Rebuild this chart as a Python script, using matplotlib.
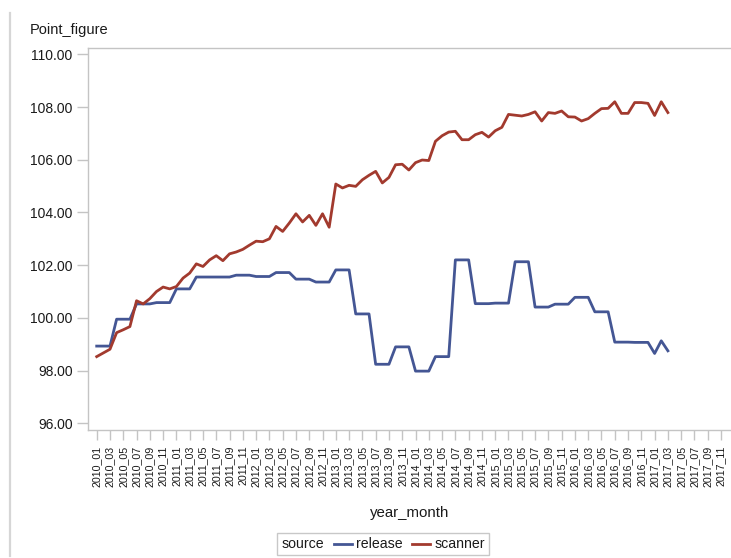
import matplotlib
matplotlib.use("Agg")
import matplotlib.pyplot as plt
from matplotlib.offsetbox import AnchoredOffsetbox, HPacker, TextArea, DrawingArea
from matplotlib.lines import Line2D

plt.rcParams['font.family'] = ['Liberation Sans', 'DejaVu Sans']

years = [2010, 2011, 2012, 2013, 2014, 2015, 2016, 2017]
months = [f"{y}_{m:02d}" for y in years for m in range(1, 13)]
tick_labels = months[::2]

release = [98.93, 98.93, 98.93, 99.95, 99.95, 99.95, 100.53, 100.53, 100.53,
           100.58, 100.58, 100.58, 101.10, 101.10, 101.10,
           101.55, 101.55, 101.55, 101.55, 101.55, 101.55,
           101.62, 101.62, 101.62, 101.57, 101.57, 101.57,
           101.72, 101.72, 101.72, 101.47, 101.47, 101.47,
           101.36, 101.36, 101.36, 101.82, 101.82, 101.82,
           100.15, 100.15, 100.15, 98.24, 98.24, 98.24,
           98.90, 98.90, 98.90, 97.98, 97.98, 97.98,
           98.53, 98.53, 98.53, 102.20, 102.20, 102.20,
           100.54, 100.54, 100.54, 100.56, 100.56, 100.56,
           102.13, 102.13, 102.13, 100.41, 100.41, 100.41,
           100.52, 100.52, 100.52, 100.78, 100.78, 100.78,
           100.23, 100.23, 100.23, 99.08, 99.08, 99.08,
           99.07, 99.07, 99.07, 98.65, 99.13, 98.75]

scanner = [98.53, 98.67, 98.81, 99.44, 99.55, 99.67, 100.65, 100.53, 100.73, 101.00,
           101.17, 101.10, 101.19, 101.51, 101.70, 102.05, 101.95, 102.20, 102.36, 102.17,
           102.43, 102.50, 102.60, 102.76, 102.91, 102.89, 103.00, 103.47, 103.28, 103.60,
           103.95, 103.64, 103.89, 103.51, 103.95, 103.44, 105.08, 104.93, 105.03, 104.99,
           105.24, 105.41, 105.56, 105.12, 105.33, 105.81, 105.83, 105.61, 105.89, 105.99,
           105.97, 106.70, 106.91, 107.05, 107.08, 106.76, 106.76, 106.95, 107.04, 106.86,
           107.10, 107.23, 107.72, 107.69, 107.66, 107.72, 107.82, 107.47, 107.79, 107.76,
           107.85, 107.63, 107.62, 107.47, 107.56, 107.76, 107.94, 107.95, 108.20, 107.76,
           107.76, 108.17, 108.17, 108.14, 107.68, 108.20, 107.79]

series = {"release": (release, "#445694"), "scanner": (scanner, "#A23A2E")}
yticks = [96, 98, 100, 102, 104, 106, 108, 110]

W, H = 731, 558
fig = plt.figure(figsize=(W / 100, H / 100), dpi=100)
ax = fig.add_axes([88 / W, 1 - 429.5 / H, 1 - 88 / W, (429.5 - 48) / H])

for name, (vals, col) in series.items():
    ax.plot(range(len(vals)), vals, color=col, lw=2.0, label=name, solid_joinstyle='round')

spine_col = "#c4c4c4"
ax.set_xlim(-1.31, 95.5)
ax.set_ylim(95.765, 110.24)
ax.set_xticks(range(0, len(months), 2))
ax.set_xticklabels(tick_labels, rotation=90, fontsize=7.7, color="#1a1a1a")
ax.set_yticks(yticks)
ax.set_yticklabels([f"{v:.2f}" for v in yticks], fontsize=10, color="#1a1a1a")
ax.tick_params(axis='x', length=7.5, width=1, color=spine_col, pad=4)
ax.tick_params(axis='y', length=8, width=1, color=spine_col, pad=3)
for s in ["left", "bottom", "top"]:
    ax.spines[s].set_color(spine_col)
    ax.spines[s].set_linewidth(1)
ax.spines["right"].set_visible(False)

ax.set_xlabel("year_month", fontsize=10.8, color="#1a1a1a", labelpad=0)
ax.xaxis.set_label_coords(0.5, -(513 - 429.5) / (429.5 - 48), transform=ax.transAxes)
ax.xaxis.label.set_va('center')

fig.text(30 / W, 1 - 30 / H, "Point_figure", fontsize=10.5, color="#1a1a1a", ha='left', va='center')

# left gray border line
fig.add_artist(Line2D([10 / W, 10 / W], [1 - 13 / H, 1 - 556 / H], transform=fig.transFigure,
                      color="#d6d6d6", lw=1.6))

# legend
def handle(col):
    da = DrawingArea(13, 8, 0, 0)
    da.add_artist(Line2D([0, 13], [4, 4], color=col, lw=2.0))
    return da

tprops = dict(fontsize=10.2, color="#1a1a1a")
items = [TextArea("source", textprops=tprops)]
for name, (vals, col) in series.items():
    items.append(HPacker(children=[handle(col), TextArea(name, textprops=tprops)], sep=3, align="center", pad=0))
box = HPacker(children=items, sep=7, align="center", pad=0)
anch = AnchoredOffsetbox(loc='center', child=box, pad=0.3, borderpad=0, frameon=True,
                         bbox_to_anchor=(383 / W, 1 - 544 / H), bbox_transform=fig.transFigure)
anch.patch.set_edgecolor("#c8c8c8")
anch.patch.set_linewidth(1)
anch.patch.set_boxstyle("square", pad=0)
fig.add_artist(anch)

fig.savefig("out.png", dpi=100)
